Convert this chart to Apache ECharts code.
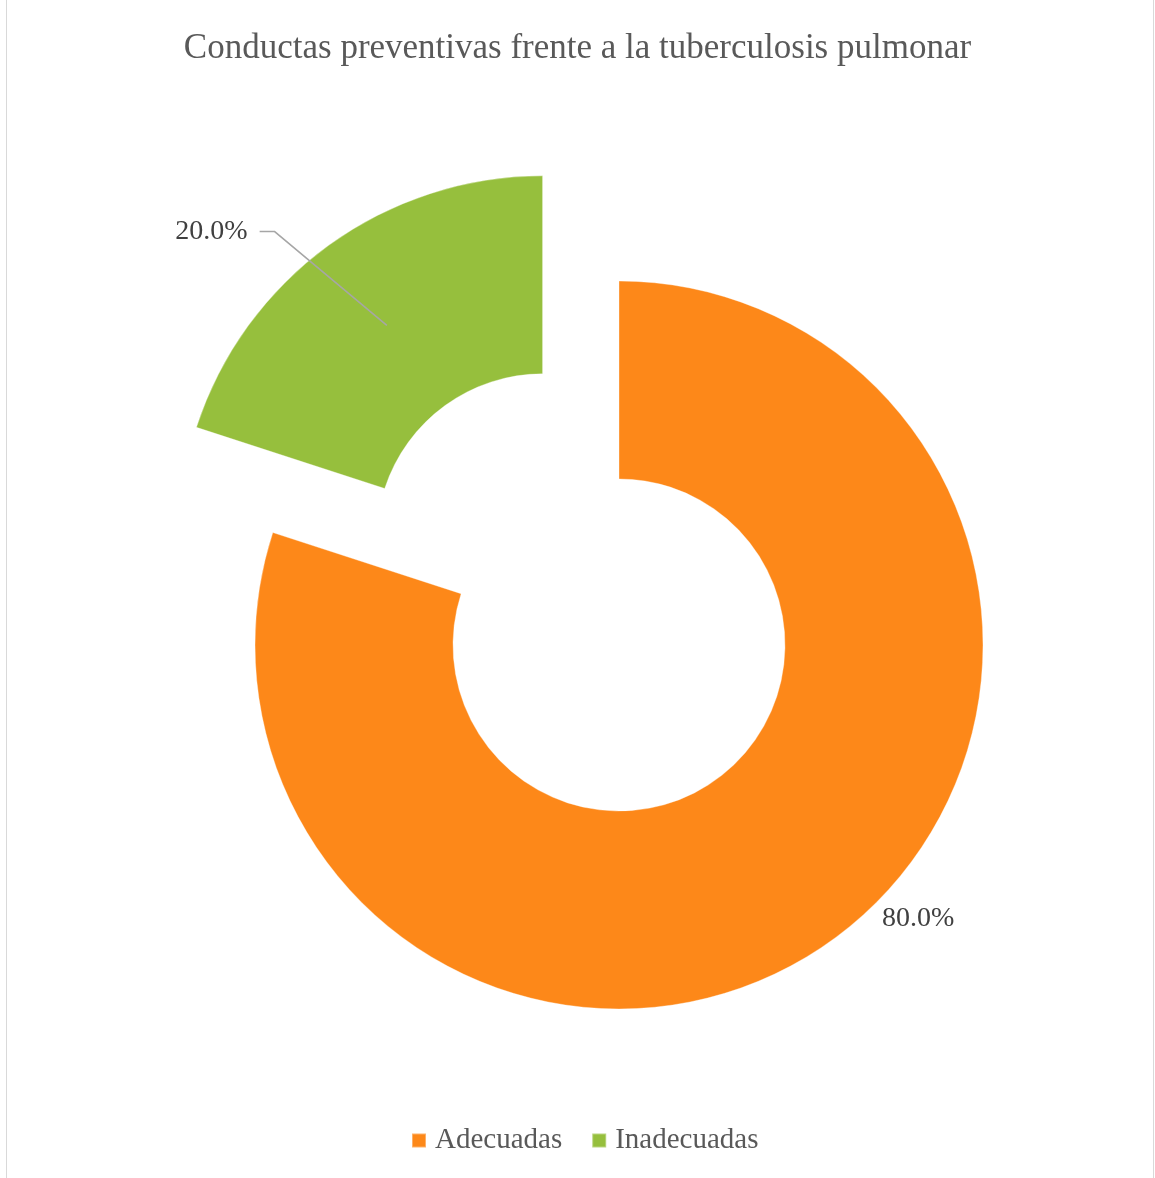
<!DOCTYPE html>
<html><head><meta charset="utf-8">
<script src="https://cdn.jsdelivr.net/npm/echarts@6/dist/echarts.min.js"></script>
<style>
html,body{margin:0;padding:0;background:#fff;}
#frame{position:absolute;left:6px;top:0;width:1146px;height:1178px;border-left:1px solid #d9d9d9;border-right:1px solid #d9d9d9;}
#c{position:absolute;left:0;top:0;width:1155px;height:1178px;}
</style></head>
<body>
<div id="frame"></div>
<div id="c"></div>
<script>
const titleText = 'Conductas preventivas frente a la tuberculosis pulmonar';
const categories = ['Adecuadas', 'Inadecuadas'];
const values = [80, 20];
const colors = ['#FD8819', '#96BF3D'];
const explodedIndex = 1;

const chart = echarts.init(document.getElementById('c'), null, {renderer: 'canvas'});
const RO = 364, RI = 166;
const font = '"Liberation Serif","Times New Roman",serif';
const fmt = p => p.percent.toFixed(1) + '%';

const common = {
  type: 'pie',
  center: [619, 645],
  radius: [RI, RO],
  startAngle: 90,
  clockwise: true,
  selectedMode: 'single',
  selectedOffset: 130,
  avoidLabelOverlap: false,
  emphasis: {disabled: true}
};

chart.setOption({
  animation: false,
  tooltip: {show: false},
  title: {
    text: titleText, left: 'center', top: 26,
    textStyle: {fontFamily: font, fontSize: 35, fontWeight: 'normal', color: '#595959'}
  },
  legend: {
    bottom: 18, left: 406, icon: 'rect', itemWidth: 14, itemHeight: 14, itemGap: 29,
    textStyle: {fontFamily: font, fontSize: 29, color: '#595959', padding: [0, 0, 0, 4]},
    data: categories
  },
  series: [
    Object.assign({}, common, {
      z: 2,
      itemStyle: {borderColor: 'rgba(255,255,255,0.35)', borderWidth: 1},
      label: {
        show: true, position: 'outside',
        fontFamily: font, fontSize: 28, color: '#404040',
        formatter: fmt
      },
      labelLine: {show: false, length: 0, length2: 44},
      labelLayout: function (params) { return {dy: -21}; },
      data: categories.map((n, i) => ({
        name: n, value: values[i],
        selected: i === explodedIndex,
        itemStyle: {color: colors[i]},
        label: {show: i !== explodedIndex}
      }))
    }),
    Object.assign({}, common, {
      z: 3,
      silent: true,
      itemStyle: {color: 'rgba(0,0,0,0)', borderWidth: 0},
      label: {
        show: true, position: 'outside',
        fontFamily: font, fontSize: 28, color: '#404040',
        distanceToLabelLine: 12,
        formatter: fmt
      },
      labelLine: {show: true, showAbove: true, length: 17, length2: 59, smooth: false, lineStyle: {color: '#a6a6a6', width: 1.5}},
      labelLayout: function (params) {
        const pts = params.labelLinePoints;
        if (!pts) return {};
        const p0 = pts[0], p1 = pts[1], p2 = pts[2];
        const dx = p0[0] - p1[0], dy = p0[1] - p1[1];
        const len = Math.hypot(dx, dy) || 1;
        const inward = (RO - RI) / 2;
        const m = [p0[0] + dx / len * inward, p0[1] + dy / len * inward];
        const sgn = p2[0] < p1[0] ? 1 : -1;
        const e = [p2[0] + sgn * 15, p2[1]];
        return {labelLinePoints: [m, e, p2]};
      },
      data: categories.map((n, i) => ({
        name: n, value: values[i],
        selected: i === explodedIndex,
        label: {show: i === explodedIndex},
        labelLine: {show: i === explodedIndex}
      }))
    })
  ]
});
</script>
</body></html>
